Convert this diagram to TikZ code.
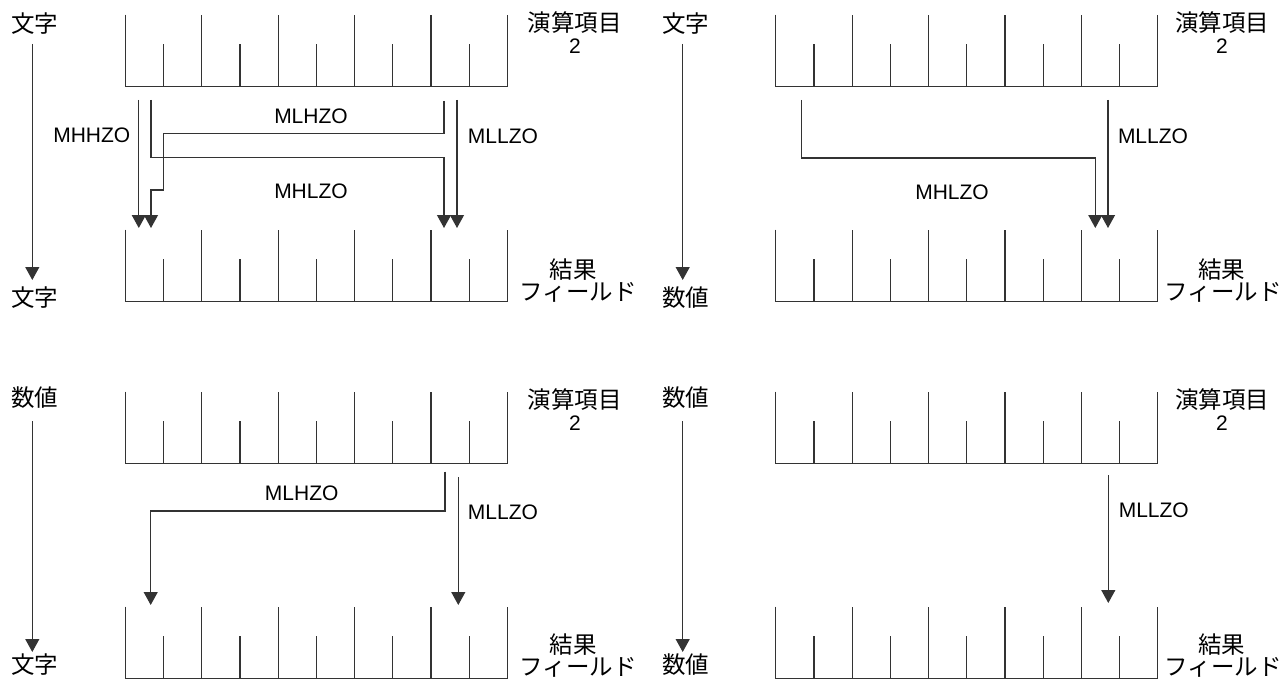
\documentclass[tikz,border=0pt]{standalone}
\usepackage{fontspec}
\setmainfont{Liberation Sans}
\newfontfamily\jpfont{Noto Sans CJK JP}
\usetikzlibrary{arrows.meta}
\begin{document}
\begin{tikzpicture}[x=1pt,y=-1pt,
  wire/.style={line width=1.2pt, draw=black!80},
  conn/.style={wire, -{Triangle[width=14pt,length=13pt]}},
  lbl/.style={inner sep=0pt, font=\fontsize{21}{25}\selectfont},
  jlbl/.style={inner sep=0pt, font=\jpfont\fontsize{23.5}{27}\selectfont},
  numlbl/.style={inner sep=0pt, font=\fontsize{21}{25}\selectfont},
  reg/.pic={
    \draw[wire, line join=miter] (0,-72) -- (0,0) -- (382,0) -- (382,-72);
    \foreach \i in {1,...,4} \draw[wire] (\i*76.4,0) -- (\i*76.4,-72);
    \foreach \i in {0,...,4} \draw[wire] (\i*76.4+38.2,0) -- (\i*76.4+38.2,-42.5);
  }
]
\useasboundingbox (0,0) rectangle (1283,682);

% ---------------- registers ----------------
\pic at (125.3,86.7) {reg};
\pic at (125.3,301.7) {reg};
\pic at (775.8,86.7) {reg};
\pic at (775.8,301.7) {reg};
\pic at (125.3,463.5) {reg};
\pic at (125.3,678.5) {reg};
\pic at (775.8,463.5) {reg};
\pic at (775.8,678.5) {reg};

% ---------------- side labels ----------------
\node[jlbl] (tlIn)  at (35,24)    {文字};
\node[jlbl] (tlOut) at (35,298)   {文字};
\node[jlbl] (trIn)  at (685.5,24) {文字};
\node[jlbl] (trOut) at (685.5,298){数値};
\node[jlbl] (blIn)  at (35,398)   {数値};
\node[jlbl] (blOut) at (35,665)   {文字};
\node[jlbl] (brIn)  at (685.5,398){数値};
\node[jlbl] (brOut) at (685.5,665){数値};

\coordinate (tlA) at (32.3,44);  \coordinate (tlB) at (32.3,280);
\coordinate (trA) at (682.7,44); \coordinate (trB) at (682.7,280);
\coordinate (blA) at (32.3,421); \coordinate (blB) at (32.3,652);
\coordinate (brA) at (682.7,421);\coordinate (brB) at (682.7,652);
\draw[conn] (tlA) -- (tlB);
\draw[conn] (trA) -- (trB);
\draw[conn] (blA) -- (blB);
\draw[conn] (brA) -- (brB);

% ---------------- register labels ----------------
\node[jlbl]   (tlOp)  at (574.5,22.5) {演算項目};
\node[numlbl] (tlOp2) at (575,46.5)   {2};
\node[jlbl]   (tlRes) at (573,270)    {結果};
\node[jlbl]   (tlFld) at (578,292.5)  {フィールド};

\node[jlbl]   (trOp)  at (1222,22.5)  {演算項目};
\node[numlbl] (trOp2) at (1222,46.5)  {2};
\node[jlbl]   (trRes) at (1221.5,270) {結果};
\node[jlbl]   (trFld) at (1223,292.5) {フィールド};

\node[jlbl]   (blOp)  at (574.5,399.5){演算項目};
\node[numlbl] (blOp2) at (575,423.5)  {2};
\node[jlbl]   (blRes) at (573,645)    {結果};
\node[jlbl]   (blFld) at (578,667)    {フィールド};

\node[jlbl]   (brOp)  at (1222,399.5) {演算項目};
\node[numlbl] (brOp2) at (1222,423.5) {2};
\node[jlbl]   (brRes) at (1221.5,645) {結果};
\node[jlbl]   (brFld) at (1223,667)   {フィールド};

% ---------------- top-left panel ----------------
\coordinate (a1) at (138.8,100); \coordinate (a1e) at (138.8,228);
\coordinate (a2) at (151,100);   \coordinate (a2e) at (444,228);
\coordinate (a3) at (444,101);   \coordinate (a3e) at (151,228);
\coordinate (a4) at (457,100);   \coordinate (a4e) at (457,228);
\draw[conn] (a1) -- (a1e);
\draw[conn] (a2) -- (151,157.3) -| (a2e);
\draw[conn] (a3) -- (444,133.3) -| (163.3,190) -| (a3e);
\draw[conn] (a4) -- (a4e);
\node[lbl] (tlMHHZO) at (91.8,135)  {MHHZO};
\node[lbl] (tlMLHZO) at (311,116.7) {MLHZO};
\node[lbl] (tlMLLZO) at (503,136)   {MLLZO};
\node[lbl] (tlMHLZO) at (311,191.7) {MHLZO};

% ---------------- top-right panel ----------------
\coordinate (b2) at (801.7,100); \coordinate (b2e) at (1095.3,228);
\coordinate (b4) at (1108,100);  \coordinate (b4e) at (1108,228);
\draw[conn] (b2) -- (801.7,158) -| (b2e);
\draw[conn] (b4) -- (b4e);
\node[lbl] (trMLLZO) at (1153,136)  {MLLZO};
\node[lbl] (trMHLZO) at (952,192.7) {MHLZO};

% ---------------- bottom-left panel ----------------
\coordinate (c3) at (445,471.7);   \coordinate (c3e) at (150.7,605);
\coordinate (c4) at (458.3,477.3); \coordinate (c4e) at (458.3,605);
\draw[conn] (c3) -- (445,511) -| (c3e);
\draw[conn] (c4) -- (c4e);
\node[lbl] (blMLHZO) at (301.7,493.3) {MLHZO};
\node[lbl] (blMLLZO) at (503,512)     {MLLZO};

% ---------------- bottom-right panel ----------------
\coordinate (d4) at (1108.3,475); \coordinate (d4e) at (1108.3,603);
\draw[conn] (d4) -- (d4e);
\node[lbl] (brMLLZO) at (1153.8,510) {MLLZO};
\end{tikzpicture}
\end{document}
